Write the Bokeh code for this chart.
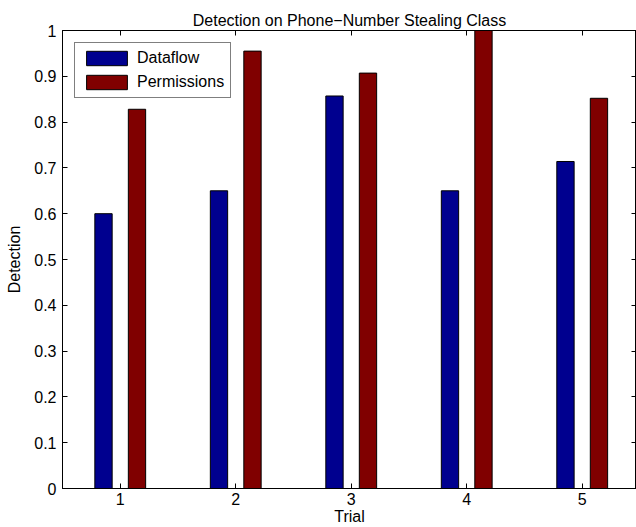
from bokeh.plotting import figure
from bokeh.models import LinearAxis, FixedTicker, Range1d, Legend, LegendItem
from bokeh.transform import dodge
from bokeh.models import ColumnDataSource
from bokeh.embed import file_html
from bokeh.resources import INLINE

trials = [1, 2, 3, 4, 5]
dataflow = [0.60, 0.65, 0.857, 0.65, 0.714]
permissions = [0.828, 0.955, 0.907, 1.0, 0.852]
y_ticks = [0, 0.1, 0.2, 0.3, 0.4, 0.5, 0.6, 0.7, 0.8, 0.9, 1.0]
y_tick_labels = ["0", "0.1", "0.2", "0.3", "0.4", "0.5", "0.6", "0.7", "0.8", "0.9", "1"]
x_tick_labels = ["1", "2", "3", "4", "5"]

FONT = "Liberation Sans"
src = ColumnDataSource(dict(trial=trials, dataflow=dataflow, permissions=permissions))

p = figure(width=636, height=527, output_backend="svg", toolbar_location=None,
           x_range=Range1d(0.5, 5.47), y_range=Range1d(0, 1),
           min_border_left=62, min_border_top=30, min_border_bottom=39, min_border_right=0)
p.title.text = "Detection on Phone\u2212Number Stealing Class"
p.title.align = "center"
p.title.vertical_align = "top"
p.title.text_font = FONT
p.title.text_font_size = "16px"
p.title.text_font_style = "normal"
p.title.text_color = "black"
p.title.offset = 0
p.title.standoff = 0
p.title.text_line_height = 1.0

p.xgrid.visible = False
p.ygrid.visible = False
p.outline_line_color = "black"
p.outline_line_width = 1
p.background_fill_color = "white"
p.border_fill_color = "white"

r1 = p.vbar(x=dodge("trial", -0.145), top="dataflow", width=0.15, source=src,
            fill_color="#00008F", line_color="black", line_width=1)
r2 = p.vbar(x=dodge("trial", 0.145), top="permissions", width=0.15, source=src,
            fill_color="#800000", line_color="black", line_width=1)

def style(ax):
    ax.major_tick_in = 5
    ax.major_tick_out = 0
    ax.minor_tick_line_color = None
    ax.axis_line_color = "black"
    ax.major_tick_line_color = "black"
    ax.major_label_text_font = FONT
    ax.major_label_text_font_size = "16px"
    ax.major_label_text_color = "black"
    ax.axis_label_text_font = FONT
    ax.axis_label_text_font_size = "16px"
    ax.axis_label_text_font_style = "normal"
    ax.axis_label_text_color = "black"

p.xaxis.ticker = FixedTicker(ticks=trials)
p.xaxis.major_label_overrides = {t: l for t, l in zip(trials, x_tick_labels)}
p.xaxis.axis_label = "Trial"
p.yaxis.ticker = FixedTicker(ticks=y_ticks)
p.yaxis.major_label_overrides = {t: l for t, l in zip(y_ticks, y_tick_labels)}
p.yaxis.axis_label = "Detection"
style(p.xaxis[0])
style(p.yaxis[0])
p.xaxis.axis_label_standoff = 0
p.xaxis.major_label_standoff = 4
p.yaxis.axis_label_standoff = 8
p.yaxis.major_label_standoff = 6

top_ax = LinearAxis(ticker=FixedTicker(ticks=trials))
right_ax = LinearAxis(ticker=FixedTicker(ticks=y_ticks))
for ax in (top_ax, right_ax):
    style(ax)
    ax.major_label_text_font_size = "1px"
    ax.major_label_text_color = None
    ax.major_label_standoff = 0
p.add_layout(top_ax, "above")
p.add_layout(right_ax, "right")

legend = Legend(items=[LegendItem(label="Dataflow", renderers=[r1]),
                       LegendItem(label="Permissions", renderers=[r2])],
                location="top_left")
legend.label_text_font = FONT
legend.label_text_font_size = "16px"
legend.label_text_color = "black"
legend.glyph_width = 51
legend.glyph_height = 18
legend.label_standoff = 5
legend.spacing = 6
legend.padding = 6
legend.margin = 12
legend.border_line_color = "black"
legend.border_line_width = 1
legend.background_fill_alpha = 1
legend.label_height = 18
p.add_layout(legend, "center")

open("out.html", "w").write(file_html(p, INLINE))
